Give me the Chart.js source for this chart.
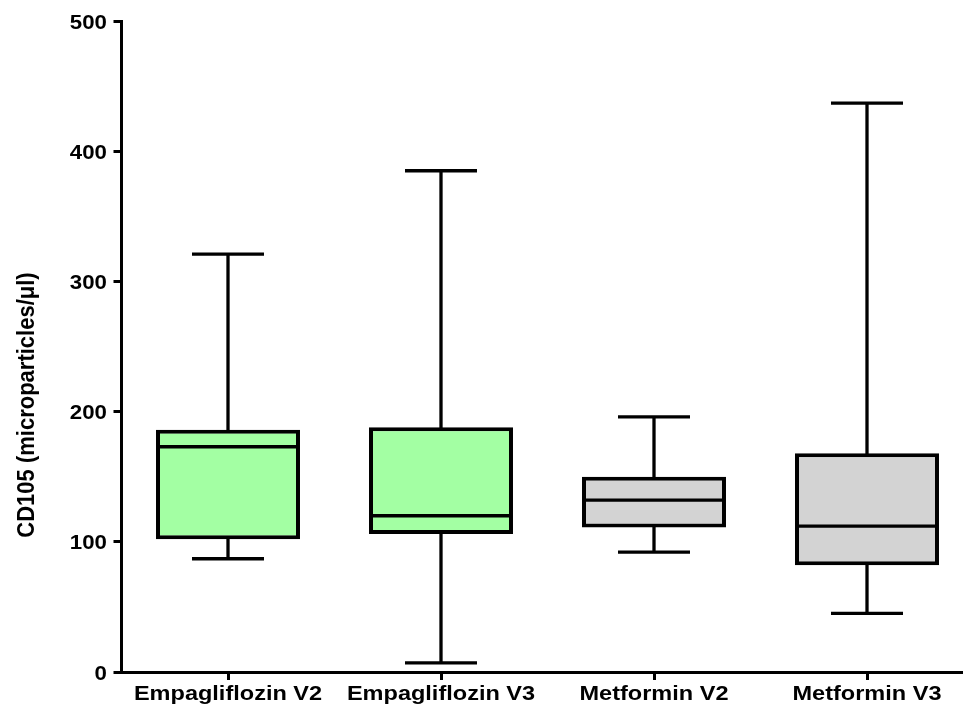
<!DOCTYPE html>
<html>
<head>
<meta charset="utf-8">
<script src="https://cdn.jsdelivr.net/npm/chart.js@4/dist/chart.umd.min.js"></script>
<style>
  html, body { margin: 0; padding: 0; overflow: hidden; background: #ffffff; }
  canvas { display: block; }
</style>
</head>
<body>
<canvas id="chart" width="976" height="706"></canvas>
<script>
// Groups and five-number summaries (CD105 microparticles/µl)
const categories   = ['Empagliflozin V2', 'Empagliflozin V3', 'Metformin V2', 'Metformin V3'];
const minValues    = [87, 7, 92, 45];
const q1Values     = [102, 106, 111, 82];
const medianValues = [173, 120, 132, 112];
const q3Values     = [186, 188, 150, 168];
const maxValues    = [321, 385, 196, 437];
const yTicks       = [0, 100, 200, 300, 400, 500];
const yTitleText   = 'CD105 (microparticles/\u03bcl)';

const fillColors = ['#a3ffa3', '#a3ffa3', '#d3d3d3', '#d3d3d3'];
const FACE = '"Liberation Sans", Arial, Helvetica, sans-serif';

// Whiskers, caps and median lines drawn on top of the floating-bar boxes
const boxWhiskers = {
  id: 'boxWhiskers',
  afterDatasetsDraw(chart) {
    const ctx = chart.ctx;
    const y = chart.scales.y;
    const meta = chart.getDatasetMeta(0);
    const seg = (x1, y1, x2, y2) => { ctx.beginPath(); ctx.moveTo(x1, y1); ctx.lineTo(x2, y2); ctx.stroke(); };
    ctx.save();
    ctx.strokeStyle = '#000';
    ctx.lineCap = 'butt';
    meta.data.forEach((bar, i) => {
      const x = bar.x;
      const half = bar.width / 2;
      const pMin = y.getPixelForValue(minValues[i]);
      const pQ1 = y.getPixelForValue(q1Values[i]);
      const pMed = y.getPixelForValue(medianValues[i]);
      const pQ3 = y.getPixelForValue(q3Values[i]);
      const pMax = y.getPixelForValue(maxValues[i]);
      ctx.lineWidth = 3.3;
      seg(x, pQ3 + 3, x, pMax);
      seg(x, pQ1 - 3, x, pMin);
      seg(x - half / 2, pMax, x + half / 2, pMax);
      seg(x - half / 2, pMin, x + half / 2, pMin);
      seg(x - half + 3, pMed, x + half - 3, pMed);
    });
    ctx.restore();
  }
};

// Axis labels and title, set in a slightly widened bold face
const axisText = {
  id: 'axisText',
  afterDraw(chart) {
    const ctx = chart.ctx;
    const xs = chart.scales.x, ys = chart.scales.y;
    const stretched = (text, x, y, sx, sy, align, rot) => {
      ctx.save();
      ctx.translate(x, y);
      if (rot) ctx.rotate(rot);
      ctx.scale(sx, sy);
      ctx.textAlign = align;
      ctx.fillText(text, 0, 0);
      ctx.restore();
    };
    ctx.save();
    ctx.fillStyle = '#000';
    ctx.font = 'bold 21px ' + FACE;
    ctx.textBaseline = 'alphabetic';
    categories.forEach((label, i) => {
      stretched(label, xs.getPixelForTick(i), 700, 1.12, 1, 'center', 0);
    });
    yTicks.forEach(v => {
      stretched(String(v), 107, ys.getPixelForValue(v) + 7.5, 1.06, 1, 'right', 0);
    });
    ctx.font = 'bold 22px ' + FACE;
    ctx.textBaseline = 'middle';
    stretched(yTitleText, 27.5, 405, 1, 1.08, 'center', -Math.PI / 2);
    ctx.restore();
  }
};

new Chart(document.getElementById('chart'), {
  type: 'bar',
  data: {
    labels: categories,
    datasets: [{
      data: q1Values.map((v, i) => [v, q3Values[i]]),
      backgroundColor: fillColors,
      borderColor: '#000',
      borderWidth: 4,
      borderSkipped: false,
      barPercentage: 0.676,
      categoryPercentage: 1
    }]
  },
  options: {
    responsive: false,
    animation: false,
    devicePixelRatio: 1,
    layout: { padding: { top: 21, right: 2.5, left: 0, bottom: 0 } },
    plugins: { legend: { display: false }, tooltip: { enabled: false } },
    scales: {
      x: {
        type: 'category',
        offset: true,
        grid: { display: true, drawOnChartArea: false, offset: false, drawTicks: true, tickLength: 8, lineWidth: 3, color: '#000' },
        border: { display: true, width: 3, color: '#000' },
        ticks: { display: false, autoSkip: false, maxRotation: 0 },
        afterFit(scale) { scale.height = 34; }
      },
      y: {
        min: 0,
        max: 500,
        afterBuildTicks(scale) { scale.ticks = yTicks.map(v => ({ value: v })); },
        grid: { display: true, drawOnChartArea: false, drawTicks: true, tickLength: 8, lineWidth: 3, color: '#000' },
        border: { display: true, width: 3, color: '#000' },
        ticks: { display: false },
        afterFit(scale) { scale.width = 121.5; }
      }
    }
  },
  plugins: [boxWhiskers, axisText]
});
</script>
</body>
</html>
